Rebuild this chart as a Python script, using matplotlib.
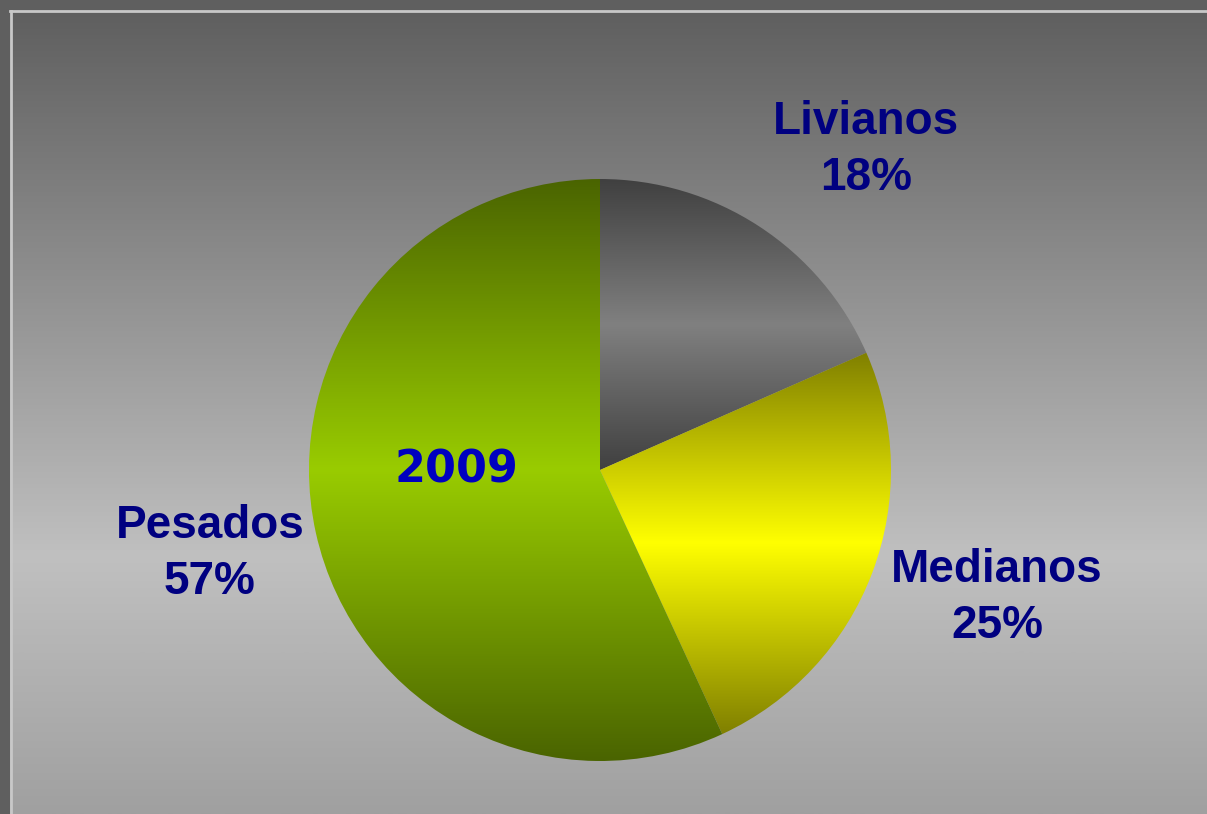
import numpy as np
import matplotlib
matplotlib.use("Agg")
import matplotlib.pyplot as plt
from matplotlib.colors import LinearSegmentedColormap

# data
categories = ["Livianos", "Medianos", "Pesados"]
shares = [18.4, 24.7, 56.9]
year_label = "2009"

# gradient colours per slice: edge, middle, edge
slice_grads = [
    ["#404040", "#808080", "#404040"],
    ["#808000", "#ffff00", "#808000"],
    ["#4a6400", "#99cc00", "#4a6400"],
]

W, H = 1207, 814
fig = plt.figure(figsize=(W / 100, H / 100), dpi=100, facecolor="#5f5f5f")
ax = fig.add_axes([0, 0, 1, 1])

# background gradient inside the frame (dark top, light lower middle)
bg_cmap = LinearSegmentedColormap.from_list(
    "bg", [(0, "#5f5f5f"), (0.68, "#c0c0c0"), (1, "#a0a0a0")])
grad = np.linspace(0, 1, 512).reshape(-1, 1)
ax.imshow(grad, cmap=bg_cmap, extent=(10, W, 0, H - 10), origin="upper",
          aspect="auto", zorder=0)
ax.plot([11, 11], [0, H - 11], color="#c8c8c8", lw=2, zorder=1)
ax.plot([10, W], [H - 11, H - 11], color="#c8c8c8", lw=2, zorder=1)

# pie
wedges, _ = ax.pie(shares, startangle=90, counterclock=False,
                   center=(600, H - 470), radius=291, frame=True,
                   wedgeprops=dict(linewidth=0))
ax.set_xlim(0, W)
ax.set_ylim(0, H)
ax.set_aspect("auto")
ax.axis("off")

# slice fills: dark edge -> light middle -> dark edge
for w, cols in zip(wedges, slice_grads):
    w.set_facecolor("none")
    bb = w.get_path().get_extents()
    cmap = LinearSegmentedColormap.from_list("g", cols)
    im = ax.imshow(grad, cmap=cmap, extent=(bb.x0, bb.x1, bb.y0, bb.y1),
                   origin="upper", aspect="auto", zorder=2)
    im.set_clip_path(w)

# labels
label_pos = [(866, 150), (997, 598), (210, 554)]
for name, val, (x, y) in zip(categories, shares, label_pos):
    ax.text(x, H - y, f"{name}\n{val:.0f}%", ha="center", va="center",
            fontsize=33, fontweight="bold", family="Liberation Sans",
            color="#000080", linespacing=1.36, zorder=5)

ax.text(456, H - 470, year_label, ha="center", va="center", fontsize=32,
        fontweight="bold", family="DejaVu Sans", color="#0000c0", zorder=5)

fig.savefig("out.png", dpi=100, facecolor=fig.get_facecolor())
